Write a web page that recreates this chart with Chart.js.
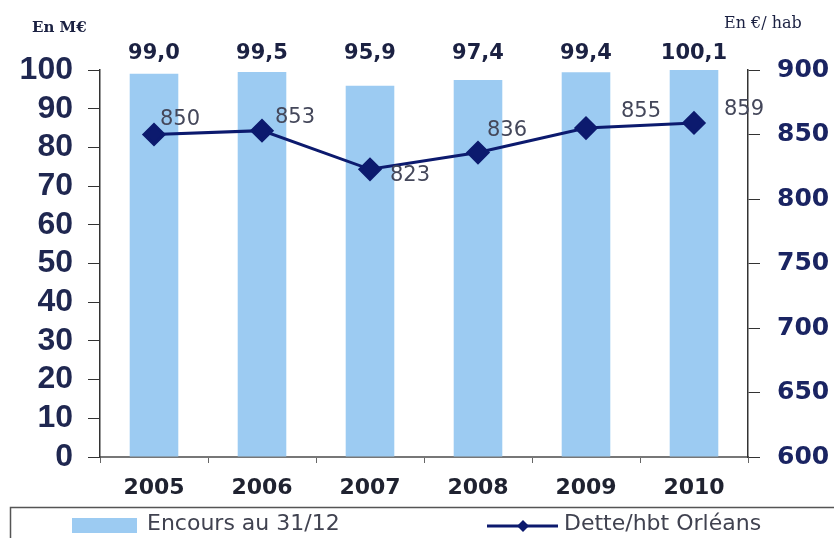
<!DOCTYPE html>
<html>
<head>
<meta charset="utf-8">
<script src="https://cdn.jsdelivr.net/npm/chart.js@4"></script>
<style>
  html, body { margin: 0; padding: 0; background: #fff; }
  #wrap { width: 834px; height: 538px; position: relative; }
</style>
</head>
<body>
<div id="wrap"><canvas id="chart" width="834" height="538"></canvas></div>
<script>
var years = ['2005', '2006', '2007', '2008', '2009', '2010'];
var encours = [99.0, 99.5, 95.9, 97.4, 99.4, 100.1];
var detteHab = [850, 853, 823, 836, 855, 859];
var leftTicks = [0, 100, 10];
var rightTicks = [600, 900, 50];

var navy = '#0c1a6e';
var barBlue = '#9ccbf2';
var sans = '"DejaVu Sans", sans-serif';
var arial = '"Liberation Sans", Arial, sans-serif';

function fr(v) { return v.toFixed(1).replace('.', ','); }

// label offsets for the line values (dx to left edge, dy from the point)
var lineLabelOff = [[6, -15], [13, -13], [20, 6], [9, -22], [35, -17], [30, -13]];

var extras = {
  id: 'extras',
  afterDatasetsDraw: function (chart) {
    var ctx = chart.ctx;
    ctx.save();
    // bar values
    var barMeta = chart.getDatasetMeta(0);
    ctx.font = 'bold 21px ' + sans;
    ctx.fillStyle = '#1b2142';
    ctx.textAlign = 'center';
    ctx.textBaseline = 'alphabetic';
    barMeta.data.forEach(function (el, i) {
      ctx.fillText(fr(encours[i]), el.x, 59);
    });
    // line values
    var lineMeta = chart.getDatasetMeta(1);
    ctx.font = '21px ' + sans;
    ctx.fillStyle = '#44475a';
    ctx.textAlign = 'left';
    ctx.textBaseline = 'middle';
    lineMeta.data.forEach(function (el, i) {
      var o = lineLabelOff[i];
      ctx.fillText(String(detteHab[i]), el.x + o[0], el.y + o[1]);
    });
    // axis titles
    ctx.fillStyle = '#1b2142';
    ctx.font = 'bold 15px "DejaVu Serif", serif';
    ctx.fillText('En M€', 32, 28);
    ctx.font = '16px "DejaVu Serif", serif';
    ctx.fillText('En €/ hab', 724, 24);

    // legend box
    ctx.strokeStyle = '#555';
    ctx.lineWidth = 1.5;
    ctx.strokeRect(10.5, 507.5, 830, 40);
    ctx.fillStyle = barBlue;
    ctx.fillRect(72, 518, 65, 15);
    ctx.strokeStyle = navy;
    ctx.lineWidth = 3;
    ctx.beginPath();
    ctx.moveTo(487, 526);
    ctx.lineTo(558, 526);
    ctx.stroke();
    ctx.fillStyle = navy;
    ctx.beginPath();
    ctx.moveTo(523, 520); ctx.lineTo(529, 526); ctx.lineTo(523, 532); ctx.lineTo(517, 526);
    ctx.closePath();
    ctx.fill();
    ctx.fillStyle = '#404250';
    ctx.font = '22px ' + sans;
    ctx.textAlign = 'left';
    ctx.fillText(chart.data.datasets[0].label, 147, 524);
    ctx.fillText(chart.data.datasets[1].label, 564, 524);
    ctx.restore();
  }
};

new Chart(document.getElementById('chart'), {
  data: {
    labels: years,
    datasets: [{
      type: 'bar',
      label: 'Encours au 31/12',
      data: encours,
      yAxisID: 'y',
      backgroundColor: barBlue,
      barPercentage: 0.45,
      categoryPercentage: 1,
      order: 1
    }, {
      type: 'line',
      label: 'Dette/hbt Orléans',
      data: detteHab,
      yAxisID: 'y1',
      borderColor: navy,
      backgroundColor: navy,
      borderWidth: 3,
      pointStyle: 'rectRot',
      pointRadius: 10,
      pointBackgroundColor: navy,
      pointBorderColor: navy,
      tension: 0,
      order: 0
    }]
  },
  options: {
    responsive: false,
    animation: false,
    layout: { padding: { top: 70, left: 0, right: 0, bottom: 0 } },
    plugins: { legend: { display: false }, tooltip: { enabled: false } },
    scales: {
      x: {
        offset: true,
        grid: { offset: true, drawOnChartArea: false, tickLength: 6, color: '#666' },
        border: { color: '#777', width: 2 },
        ticks: {
          padding: 12,
          color: '#1f2230',
          font: { family: sans, size: 22, weight: 'bold' }
        },
        afterFit: function (s) { s.height = 81; }
      },
      y: {
        position: 'left',
        min: leftTicks[0], max: leftTicks[1],
        grid: { drawOnChartArea: false, tickLength: 12, color: '#333' },
        border: { color: '#333', width: 1.5 },
        ticks: {
          stepSize: leftTicks[2],
          autoSkip: false,
          padding: 15,
          color: '#1f2750',
          font: { family: arial, size: 32, weight: 'bold', lineHeight: 1 }
        },
        afterFit: function (s) { s.width = 100; }
      },
      y1: {
        position: 'right',
        min: rightTicks[0], max: rightTicks[1],
        grid: { drawOnChartArea: false, tickLength: 12, color: '#333' },
        border: { color: '#333', width: 1.5 },
        ticks: {
          stepSize: rightTicks[2],
          autoSkip: false,
          padding: 17,
          color: '#1a2462',
          font: { family: sans, size: 25, weight: 'bold' }
        },
        afterFit: function (s) { s.width = 86; }
      }
    }
  },
  plugins: [extras]
});
</script>
</body>
</html>
